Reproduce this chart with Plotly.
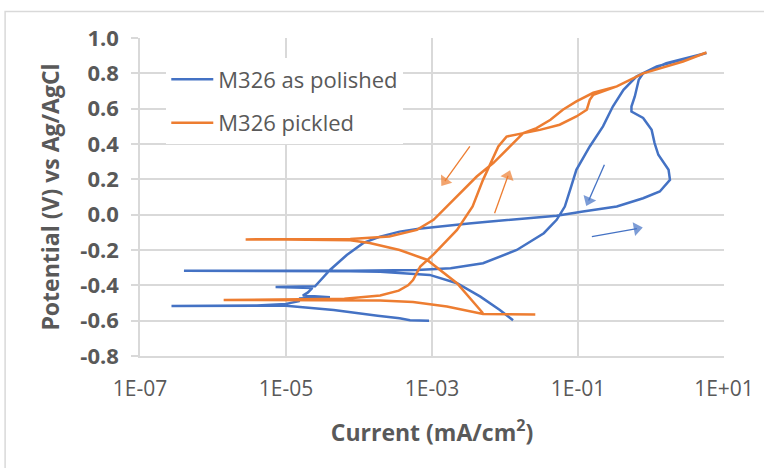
import plotly.graph_objects as go

# ---------------- data ----------------
# M326 as polished : current (mA/cm2), potential (V vs Ag/AgCl)
polished_current = [
    9.1e-4, 5.0e-4, 3.6e-4, 1.8e-4, 4.5e-5, 2.0e-5, 1.0e-5, 4.0e-6, 2.7e-7, 4.0e-6,
    1.0e-5, 1.5e-5, 1.55e-5, 4.0e-5, 1.7e-5, 2.0e-5, 2.3e-5, 7.2e-6, 2.5e-5, 3.3e-5,
    4.0e-5, 6.8e-5, 1.15e-4, 1.95e-4, 3.6e-4, 6.6e-4, 1.23e-3, 3.2e-3, 5.8e-3, 1.26e-2,
    2.7e-2, 5.1e-2, 1.17e-1, 3.4e-1, 7.8e-1, 1.32, 1.82, 1.74, 1.26, 1.12,
    1.02, 7.8e-1, 5.4e-1, 5.4e-1, 6.0e-1, 6.8e-1, 7.8e-1, 1.62, 5.75,
    1.2, 6.3e-1, 4.2e-1, 3.0e-1, 2.2e-1, 1.45e-1, 9.5e-2, 7.8e-2, 6.6e-2, 5.1e-2,
    3.4e-2, 1.45e-2, 5.0e-3, 1.8e-3, 6.2e-4, 7.6e-5, 3.5e-6, 4.0e-7, 3.5e-6, 7.6e-5,
    1.95e-4, 9.3e-4, 2.2e-3, 4.6e-3, 8.5e-3, 1.29e-2,
]
polished_potential = [
    -0.600, -0.598, -0.586, -0.572, -0.539, -0.525, -0.515, -0.516, -0.517, -0.514,
    -0.505, -0.490, -0.475, -0.468, -0.458, -0.440, -0.415, -0.410, -0.405, -0.350,
    -0.313, -0.228, -0.160, -0.124, -0.096, -0.080, -0.067, -0.050, -0.040, -0.028,
    -0.018, -0.006, 0.018, 0.046, 0.093, 0.131, 0.197, 0.254, 0.339, 0.405,
    0.480, 0.547, 0.584, 0.612, 0.669, 0.764, 0.800, 0.858, 0.915,
    0.839, 0.782, 0.707, 0.612, 0.500, 0.386, 0.254, 0.140, 0.046, -0.029,
    -0.105, -0.200, -0.275, -0.303, -0.313, -0.317, -0.318, -0.318, -0.319, -0.320,
    -0.323, -0.341, -0.388, -0.464, -0.540, -0.598,
]

# M326 pickled
pickled_current = [
    2.6e-2, 5.0e-3, 1.6e-3, 5.5e-4, 1.95e-4, 3.2e-5, 3.0e-6, 1.4e-6, 3.0e-6, 3.2e-5,
    6.3e-5, 1.95e-4, 3.5e-4, 4.7e-4, 5.5e-4, 6.9e-4, 1.05e-3, 2.2e-3, 3.6e-3, 5.0e-3,
    6.6e-3, 8.1e-3, 1.05e-2, 1.78e-2, 3.0e-2, 5.6e-2, 9.5e-2, 1.32e-1, 1.45e-1, 1.62e-1,
    3.4e-1, 7.8e-1, 2.75, 5.75,
    2.75, 7.8e-1, 3.4e-1, 1.62e-1, 9.5e-2, 6.2e-2, 4.2e-2, 2.7e-2, 1.78e-2, 1.17e-2,
    6.9e-3, 4.1e-3, 2.4e-3, 1.6e-3, 1.05e-3, 6.2e-4, 2.6e-4, 7.6e-5, 1.0e-5, 2.8e-6,
    1.0e-5, 7.6e-5, 1.4e-4, 3.6e-4, 8.5e-4, 2.2e-3, 5.0e-3,
]
pickled_potential = [
    -0.565, -0.562, -0.520, -0.495, -0.486, -0.483, -0.483, -0.483, -0.482, -0.480,
    -0.476, -0.458, -0.430, -0.400, -0.370, -0.294, -0.225, -0.086, 0.046, 0.197,
    0.310, 0.386, 0.442, 0.462, 0.480, 0.509, 0.556, 0.594, 0.650, 0.679,
    0.726, 0.800, 0.867, 0.918,
    0.867, 0.800, 0.726, 0.690, 0.641, 0.594, 0.537, 0.490, 0.462, 0.386,
    0.292, 0.216, 0.122, 0.046, -0.029, -0.086, -0.124, -0.138, -0.140, -0.140,
    -0.141, -0.145, -0.160, -0.200, -0.255, -0.388, -0.558,
]

series_names = ["M326 as polished", "M326 pickled"]
series_colors = ["#4472C4", "#ED7D31"]

x_tickvals = [1e-7, 1e-5, 1e-3, 1e-1, 1e1]
x_ticktext = ["1E-07", "1E-05", "1E-03", "1E-01", "1E+01"]
y_tickvals = [-0.8, -0.6, -0.4, -0.2, 0.0, 0.2, 0.4, 0.6, 0.8, 1.0]
y_ticktext = ["-0.8", "-0.6", "-0.4", "-0.2", "0.0", "0.2", "0.4", "0.6", "0.8", "1.0"]

# scan-direction arrows: tail / head current and potential, colour index
arrow_tail_current = [3.3e-3, 7.2e-3, 2.3e-1, 1.55e-1]
arrow_tail_potential = [0.386, 0.008, 0.282, -0.124]
arrow_head_current = [1.5e-3, 1.1e-2, 1.4e-1, 6.4e-1]
arrow_head_potential = [0.19, 0.22, 0.08, -0.079]
arrow_color_index = [1, 1, 0, 0]

# ---------------- figure ----------------
fig = go.Figure()
fig.add_trace(go.Scatter(x=polished_current, y=polished_potential, mode="lines",
                         name=series_names[0], legendgroup="a",
                         line=dict(color=series_colors[0], width=2.5)))
fig.add_trace(go.Scatter(x=pickled_current, y=pickled_potential, mode="lines",
                         name=series_names[1], legendgroup="b",
                         line=dict(color=series_colors[1], width=2.5)))

for i in range(len(arrow_tail_current)):
    c = series_colors[arrow_color_index[i]]
    fig.add_trace(go.Scatter(
        x=[arrow_tail_current[i], arrow_head_current[i]],
        y=[arrow_tail_potential[i], arrow_head_potential[i]],
        mode="lines+markers", showlegend=False, hoverinfo="skip",
        line=dict(color=c, width=1.3),
        marker=dict(symbol="triangle-up", size=[0, 12], angleref="previous",
                    color=c, line=dict(width=0)),
    ))

grid = "#d9d9d9"
txt = "#595959"
fig.update_layout(
    width=764, height=468,
    margin=dict(l=140, r=40, t=38, b=112, autoexpand=False),
    paper_bgcolor="white", plot_bgcolor="white",
    font=dict(family="Open Sans", color=txt),
    showlegend=True,
    legend=dict(x=0.045, y=0.936, xanchor="left", yanchor="top",
                bgcolor="white", borderwidth=0, font=dict(size=22, color=txt),
                tracegroupgap=12, traceorder="grouped", itemwidth=42),
    xaxis=dict(type="log", range=[-7, 1], tickvals=x_tickvals, ticktext=x_ticktext,
               showgrid=True, gridcolor=grid, gridwidth=1.5,
               showline=True, linecolor=grid, linewidth=1.5,
               ticks="", zeroline=False,
               tickfont=dict(size=21, color=txt), ticklabelstandoff=13,
               title=dict(text="Current (mA/cm<sup>2</sup>)", standoff=24,
                          font=dict(size=23, color=txt, weight="bold"))),
    yaxis=dict(range=[-0.8, 1.0], tickvals=y_tickvals, ticktext=y_ticktext,
               showgrid=True, gridcolor=grid, gridwidth=1.5,
               showline=True, linecolor=grid, linewidth=1.5,
               ticks="outside", ticklen=7, tickcolor=grid, tickwidth=1.5,
               zeroline=False,
               tickfont=dict(size=22, color=txt, weight="bold"), ticklabelstandoff=8,
               title=dict(text="Potential (V) vs Ag/AgCl", standoff=14,
                          font=dict(size=23, color=txt, weight="bold"))),
    shapes=[dict(type="rect", xref="paper", yref="paper",
                 x0=-0.231, x1=1.2, y0=-0.5, y1=1.083,
                 line=dict(color=grid, width=1.5), layer="below")],
)

fig.write_html("out.html")
